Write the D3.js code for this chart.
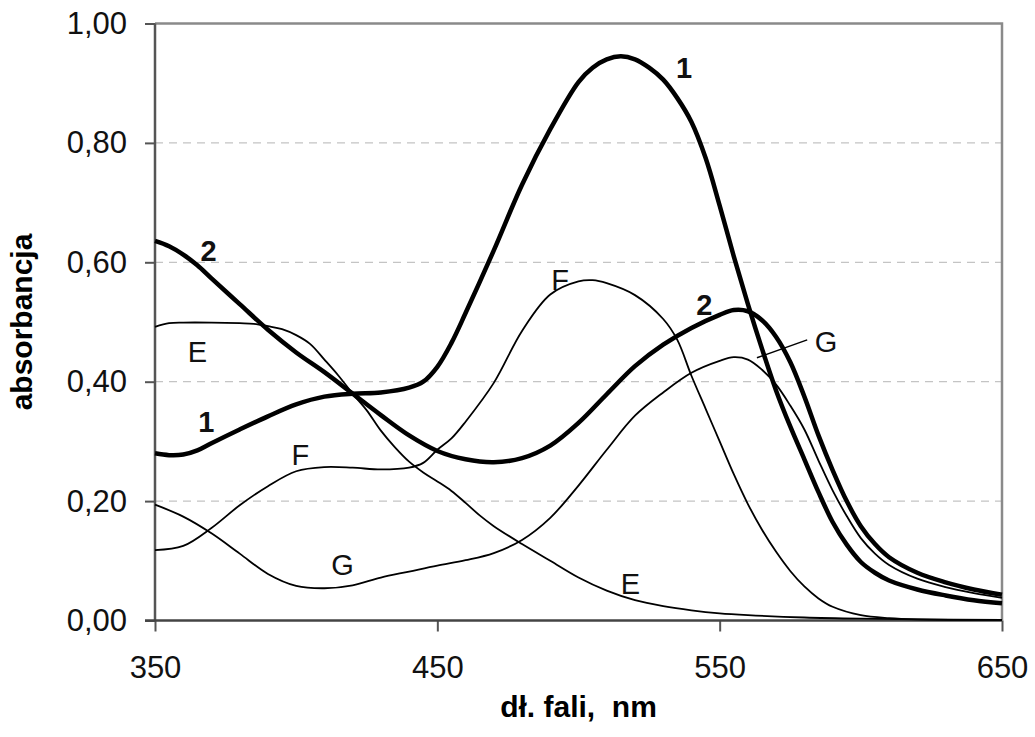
<!DOCTYPE html>
<html>
<head>
  <meta charset='utf-8'>
  <title>Absorbancja</title>
  <script src="https://d3js.org/d3.v7.min.js"></script>
  <style>
    body { margin: 0; background: #fff; }
    text { font-family: 'Liberation Sans', Arial, sans-serif; }
  </style>
</head>
<body>
  <svg width=1035 height=737></svg>
</body>
</html>

<script>

  // curve 1 (thick)
  const nm1 = [350,355,360,365,370,380,390,400,410,420,430,440,445,450,455,460,470,480,490,500,505,510,515,520,525,530,535,540,545,550,555,560,565,570,575,580,585,590,595,600,605,610,620,630,640,650];
  const abs1 = [0.28,0.277,0.278,0.285,0.297,0.32,0.342,0.362,0.375,0.38,0.382,0.39,0.4,0.425,0.465,0.515,0.62,0.73,0.823,0.902,0.926,0.94,0.945,0.94,0.926,0.906,0.875,0.835,0.775,0.695,0.61,0.53,0.455,0.385,0.325,0.27,0.215,0.165,0.127,0.098,0.08,0.067,0.052,0.042,0.034,0.029];

  // curve 2 (thick)
  const nm2 = [350,355,360,365,370,380,390,400,410,420,430,440,450,460,470,480,490,500,510,520,530,540,550,555,560,565,570,575,580,585,590,595,600,605,610,620,630,640,650];
  const abs2 = [0.636,0.627,0.613,0.595,0.573,0.53,0.487,0.449,0.416,0.38,0.344,0.31,0.284,0.27,0.265,0.272,0.293,0.331,0.379,0.426,0.462,0.49,0.512,0.52,0.518,0.503,0.475,0.433,0.375,0.31,0.252,0.2,0.158,0.128,0.106,0.08,0.064,0.052,0.043];

  // E
  const nmE = [350,355,360,370,380,385,390,395,400,405,410,415,420,425,430,435,440,445,450,455,460,465,470,480,490,500,510,520,530,540,550,560,580,600,620,650];
  const absE = [0.492,0.498,0.499,0.499,0.498,0.497,0.493,0.488,0.478,0.463,0.437,0.41,0.38,0.352,0.318,0.29,0.266,0.248,0.233,0.217,0.197,0.176,0.158,0.128,0.1,0.072,0.05,0.034,0.024,0.017,0.012,0.009,0.005,0.003,0.002,0.001];

  // F
  const nmF = [350,360,370,380,390,400,410,420,430,440,445,450,455,460,470,480,490,500,505,510,520,530,535,540,545,550,555,560,565,570,575,580,585,590,600,610,620,650];
  const absF = [0.118,0.125,0.155,0.193,0.225,0.25,0.257,0.256,0.253,0.256,0.264,0.286,0.305,0.333,0.398,0.485,0.546,0.568,0.57,0.565,0.545,0.505,0.47,0.41,0.355,0.3,0.245,0.195,0.152,0.115,0.083,0.057,0.037,0.023,0.009,0.004,0.002,0.001];

  // G
  const nmG = [350,360,370,380,390,400,410,420,430,440,450,460,470,480,490,500,510,520,530,540,550,555,560,565,570,575,580,585,590,595,600,605,610,620,630,640,650];
  const absG = [0.194,0.174,0.146,0.112,0.078,0.058,0.054,0.059,0.072,0.082,0.092,0.101,0.113,0.135,0.172,0.226,0.286,0.343,0.382,0.415,0.435,0.441,0.437,0.42,0.395,0.36,0.32,0.268,0.218,0.175,0.138,0.112,0.093,0.07,0.056,0.046,0.038];

  const xTicks = [350, 450, 550, 650];
  const yTicks = [0, 0.2, 0.4, 0.6, 0.8, 1.0];

  // curve labels: text, nm, absorbance (baseline), bold
  const labelText = ['1', '1', '2', '2', 'E', 'E', 'F', 'F', 'G', 'G'];
  const labelNm   = [537.4, 368.2, 369, 544.6, 365, 518.4, 401.5, 493.5, 416.4, 587.7];
  const labelAbs  = [0.909, 0.316, 0.602, 0.512, 0.433, 0.044, 0.26, 0.554, 0.076, 0.45];
  const labelBold = [true, true, true, true, false, false, false, false, false, false];

  // leader line for G
  const leaderNm = [563.2, 581];
  const leaderAbs = [0.44, 0.47];

  const svg = d3.select('svg');

  let x = d3.scaleLinear().domain([350, 650]).range([155, 1002]);
  let y = d3.scaleLinear().domain([0, 1]).range([620.5, 23.5]);

  // grid
  svg.append('g')
    .selectAll('line')
    .data(yTicks.filter(d => d > 0 && d < 1))
    .enter()
      .append('line')
      .attr('x1', x(350)).attr('x2', x(650))
      .attr('y1', d => y(d)).attr('y2', d => y(d))
      .attr('stroke', '#c4c4c4')
      .attr('stroke-width', 1.3)
      .attr('stroke-dasharray', '8,6');

  // frame top + right
  svg.append('path')
    .attr('d', `M${x(350)},${y(1)}H${x(650)}V${y(0)}`)
    .attr('fill', 'none')
    .attr('stroke', '#8a8a8a')
    .attr('stroke-width', 2.5);

  const fmt = d => d3.format('.2f')(d).replace('.', ',');

  let yAxis = svg.append('g')
    .attr('transform', `translate(${x(350)},0)`)
    .call(d3.axisLeft(y).tickValues(yTicks).tickFormat(fmt).tickSize(10).tickPadding(18));

  let xAxis = svg.append('g')
    .attr('transform', `translate(0,${y(0)})`)
    .call(d3.axisBottom(x).tickValues(xTicks).tickFormat(d3.format('d')).tickSize(11).tickPadding(24));

  [yAxis, xAxis].forEach(function(a) {
    a.selectAll('.domain').remove();
    a.selectAll('line').attr('stroke', '#555').attr('stroke-width', 2);
    a.selectAll('text')
      .attr('font-family', "'Liberation Sans', Arial, sans-serif")
      .attr('font-size', 31)
      .attr('fill', '#111');
  });

  // axis lines
  svg.append('line')
    .attr('x1', x(350)).attr('x2', x(350))
    .attr('y1', y(1)).attr('y2', y(0))
    .attr('stroke', '#555').attr('stroke-width', 2.5);
  svg.append('line')
    .attr('x1', x(350) - 10).attr('x2', x(650))
    .attr('y1', y(0)).attr('y2', y(0))
    .attr('stroke', '#444').attr('stroke-width', 2.5);

  // curves
  const line = d3.line()
    .x(d => x(d[0]))
    .y(d => y(d[1]))
    .curve(d3.curveCatmullRom.alpha(0.5));

  const series = [
    {nm: nmE, v: absE, w: 1.8},
    {nm: nmF, v: absF, w: 1.8},
    {nm: nmG, v: absG, w: 1.8},
    {nm: nm2, v: abs2, w: 4.5},
    {nm: nm1, v: abs1, w: 4.5}
  ];

  svg.append('g')
    .selectAll('path')
    .data(series)
    .enter()
      .append('path')
      .attr('d', s => line(d3.zip(s.nm, s.v)))
      .attr('fill', 'none')
      .attr('stroke', '#000')
      .attr('stroke-width', s => s.w)
      .attr('stroke-linejoin', 'round');

  // G leader
  svg.append('line')
    .attr('x1', x(leaderNm[0])).attr('y1', y(leaderAbs[0]))
    .attr('x2', x(leaderNm[1])).attr('y2', y(leaderAbs[1]))
    .attr('stroke', '#000').attr('stroke-width', 1.5);

  // curve labels
  svg.append('g')
    .selectAll('text')
    .data(labelText.map((t, i) => ({t: t, nm: labelNm[i], v: labelAbs[i], b: labelBold[i]})))
    .enter()
      .append('text')
      .attr('x', d => x(d.nm))
      .attr('y', d => y(d.v))
      .attr('text-anchor', 'middle')
      .attr('font-size', 29)
      .attr('font-weight', d => d.b ? 'bold' : 'normal')
      .attr('fill', '#111')
      .text(d => d.t);

  // axis titles
  svg.append('text')
    .attr('x', (x(350) + x(650)) / 2)
    .attr('y', 717)
    .attr('text-anchor', 'middle')
    .attr('font-size', 30)
    .attr('font-weight', 'bold')
    .style('white-space', 'pre')
    .text('dł. fali,  nm');

  svg.append('text')
    .attr('transform', `translate(32,${(y(0) + y(1)) / 2}) rotate(-90)`)
    .attr('text-anchor', 'middle')
    .attr('font-size', 30)
    .attr('font-weight', 'bold')
    .text('absorbancja');

</script>
